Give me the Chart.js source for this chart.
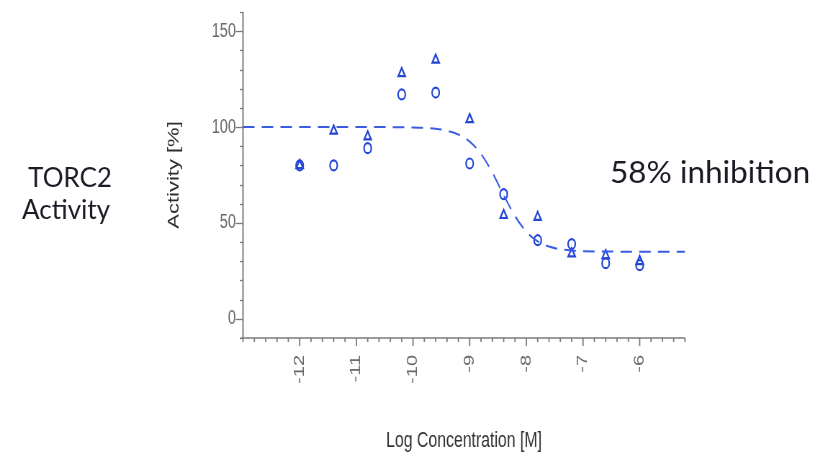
<!DOCTYPE html>
<html>
<head>
<meta charset="utf-8">
<script src="https://cdn.jsdelivr.net/npm/chart.js@4/dist/chart.umd.min.js"></script>
<style>
  html, body { margin: 0; padding: 0; background: #fff; }
  #frame { position: relative; width: 817px; height: 460px; overflow: hidden; background: #fff; }
  /* the plot is drawn wide and squeezed horizontally, as in the printed figure */
  #squeeze { position: absolute; left: 0; top: 0; width: 1135px; height: 460px;
             transform: scaleX(0.72); transform-origin: 0 0; }
</style>
</head>
<body>
<div id="frame">
  <div id="squeeze"><canvas id="c" width="1135" height="460"></canvas></div>
</div>
<script>
// log10 molar concentrations of the dilution series
const logConc = [-12, -11.4, -10.8, -10.2, -9.6, -9.0, -8.4, -7.8, -7.2, -6.6, -6.0];
// replicate 1 (circles) and replicate 2 (triangles), activity in %
const activityRep1 = [80, 80, 89, 117, 118, 81, 65, 41, 39, 29, 28];
const activityRep2 = [80, 98, 95, 128, 135, 104, 54, 53, 34, 33, 30];

// fitted dose-response curve, read along its length
const fitLogConc  = [-13, -12, -11, -10, -9.6, -9.4, -9.2, -9.0, -8.8, -8.6, -8.4, -8.2, -8.0, -7.8, -7.6, -7.4, -7.2, -7.0, -6.6, -6.0, -5.2];
const fitActivity = [100, 100, 100, 99.8, 99.1, 98.1, 96.1, 92.4, 86, 76.3, 64.5, 53.6, 45.4, 40.4, 37.7, 36.3, 35.6, 35.3, 35.1, 35, 35];

// axis ranges and labelled ticks
const xRange = [-13, -5.2];
const yRange = [-10, 160];
const xTickValues = [-12, -11, -10, -9, -8, -7, -6];
const yTickValues = [0, 50, 100, 150];
const xMinorStep = 0.2;
const yMinorStep = 10;

const SQUEEZE = 0.72;
const BLUE = '#2446d4';
const AXIS = '#7a7a7a';
const TICK_TEXT = '#6a6a6a';

const pairs = (xs, ys) => xs.map((x, i) => ({ x, y: ys[i] }));

// axis lines with major and minor tick marks
const axisTicks = {
  id: 'axisTicks',
  beforeDatasetsDraw(chart) {
    const { ctx, chartArea: a, scales: { x, y } } = chart;
    ctx.save();
    ctx.strokeStyle = AXIS;
    ctx.lineCap = 'butt';

    ctx.lineWidth = 2;
    ctx.beginPath(); ctx.moveTo(a.left, a.top); ctx.lineTo(a.left, a.bottom + 1); ctx.stroke();
    ctx.lineWidth = 1.5;
    ctx.beginPath(); ctx.moveTo(a.left - 3, a.bottom); ctx.lineTo(a.right, a.bottom); ctx.stroke();

    ctx.lineWidth = 1.3;
    const yCount = Math.round((yRange[1] - yRange[0]) / yMinorStep);
    for (let i = 0; i <= yCount; i++) {
      const v = yRange[0] + i * yMinorStep;
      const py = Math.round(y.getPixelForValue(v)) + 0.5;
      const len = yTickValues.includes(v) ? 10 : 4.5;
      ctx.beginPath(); ctx.moveTo(a.left - len, py); ctx.lineTo(a.left, py); ctx.stroke();
    }

    ctx.lineWidth = 1.8;
    const xCount = Math.round((xRange[1] - xRange[0]) / xMinorStep);
    for (let i = 0; i <= xCount; i++) {
      const v = +(xRange[0] + i * xMinorStep).toFixed(4);
      const px = x.getPixelForValue(v);
      const len = xTickValues.includes(v) ? 8 : 4;
      ctx.beginPath(); ctx.moveTo(px, a.bottom); ctx.lineTo(px, a.bottom + len); ctx.stroke();
    }
    ctx.restore();
  }
};

// slide annotations beside the plot, drawn unsqueezed
const sideNotes = {
  id: 'sideNotes',
  afterDraw(chart) {
    const ctx = chart.ctx;
    ctx.save();
    ctx.scale(1 / SQUEEZE, 1);
    ctx.fillStyle = '#1b1b26';
    ctx.textBaseline = 'alphabetic';
    ctx.font = '26px Lato';
    ctx.textAlign = 'right';
    ctx.fillText('TORC2', 112, 187);
    ctx.fillText('Activity', 110, 219);
    ctx.font = '31.5px Lato';
    ctx.textAlign = 'left';
    ctx.fillText('58% inhibition', 610, 183);
    ctx.restore();
  }
};

new Chart(document.getElementById('c'), {
  type: 'scatter',
  data: {
    datasets: [
      {
        label: 'fit',
        data: pairs(fitLogConc, fitActivity),
        showLine: true,
        borderColor: '#3a5ce0',
        borderWidth: 2,
        borderDash: [16, 10],
        pointRadius: 0,
        cubicInterpolationMode: 'monotone',
        fill: false
      },
      {
        label: 'replicate 1',
        data: pairs(logConc, activityRep1),
        pointStyle: 'circle',
        pointRadius: 5,
        pointBorderWidth: 2.2,
        pointBorderColor: BLUE,
        pointBackgroundColor: 'rgba(0,0,0,0)'
      },
      {
        label: 'replicate 2',
        data: pairs(logConc, activityRep2),
        pointStyle: 'triangle',
        pointRadius: 5.5,
        pointBorderWidth: 2.2,
        pointBorderColor: BLUE,
        pointBackgroundColor: 'rgba(0,0,0,0)'
      }
    ]
  },
  options: {
    responsive: false,
    animation: false,
    devicePixelRatio: 1,
    layout: { padding: { left: 227.5, right: 183.6, top: 12, bottom: 0 } },
    plugins: { legend: { display: false }, tooltip: { enabled: false } },
    scales: {
      x: {
        type: 'linear',
        min: xRange[0],
        max: xRange[1],
        afterBuildTicks: s => { s.ticks = xTickValues.map(v => ({ value: v })); },
        afterFit: s => { s.height = 122; s.paddingTop = 0; s.paddingBottom = 0; },
        grid: { display: false, drawTicks: false },
        border: { display: false },
        ticks: {
          autoSkip: false,
          minRotation: 90,
          maxRotation: 90,
          padding: 17,
          color: TICK_TEXT,
          font: { family: 'Liberation Sans', size: 20 }
        },
        title: {
          display: true,
          text: 'Log Concentration [M]',
          color: '#333333',
          font: { family: 'Liberation Sans', size: 22 },
          padding: { top: 0, bottom: 6 }
        }
      },
      y: {
        type: 'linear',
        min: yRange[0],
        max: yRange[1],
        afterBuildTicks: s => { s.ticks = yTickValues.map(v => ({ value: v })); },
        afterFit: s => { s.width = 110; s.paddingTop = 0; s.paddingBottom = 0; },
        grid: { display: false, drawTicks: false },
        border: { display: false },
        ticks: {
          padding: 10,
          color: TICK_TEXT,
          font: { family: 'Liberation Sans', size: 20 }
        },
        title: {
          display: true,
          text: 'Activity [%]',
          color: '#2e2e2e',
          font: { family: 'Liberation Sans', size: 22 },
          padding: { top: 1, bottom: 0 }
        }
      }
    }
  },
  plugins: [axisTicks, sideNotes]
});
</script>
</body>
</html>
